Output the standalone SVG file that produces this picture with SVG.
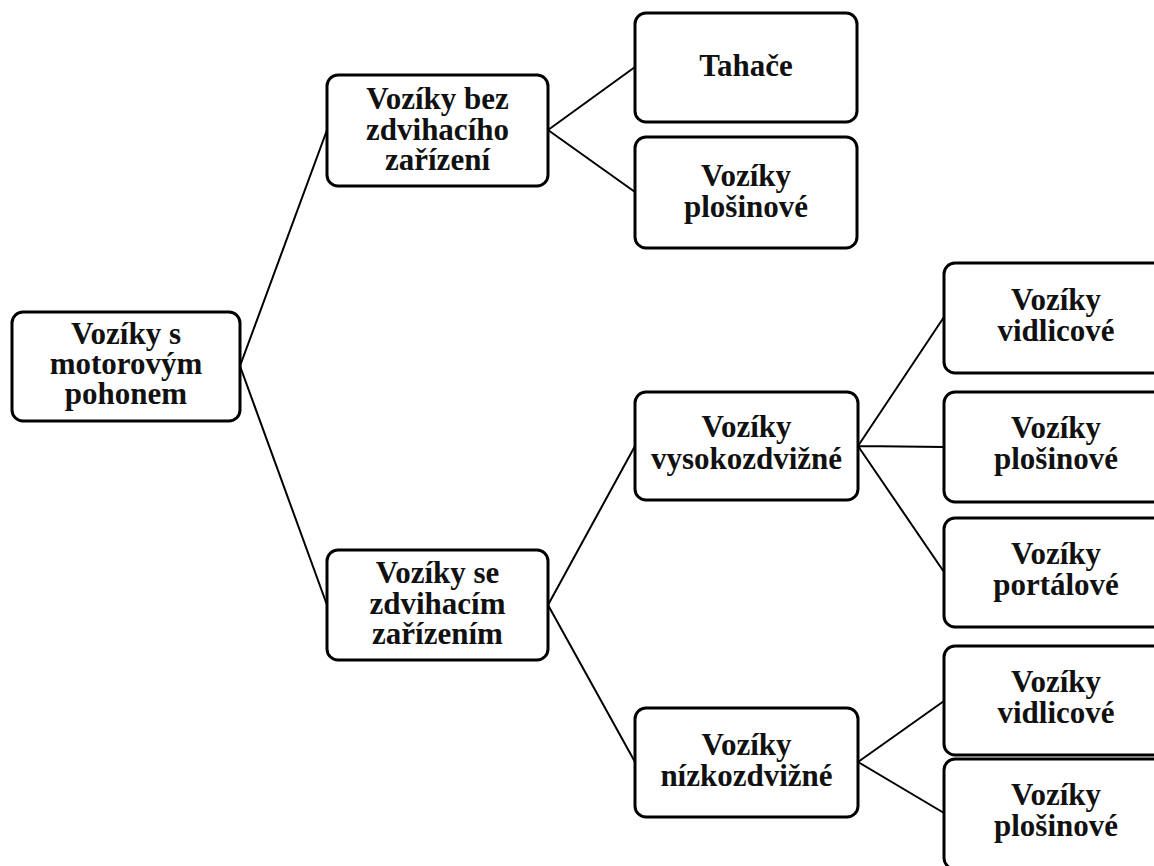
<svg xmlns="http://www.w3.org/2000/svg" width="1154" height="866" viewBox="0 0 1154 866">
  <style>
    .box { fill: #ffffff; stroke: #000000; stroke-width: 3; }
    .lbl { font-family: "Liberation Serif", "Times New Roman", serif; font-weight: bold; font-size: 31px; fill: #111111; text-anchor: middle; }
    .edge { stroke: #000000; stroke-width: 2; fill: none; }
  </style>
  <rect width="1154" height="866" fill="#ffffff"/>

  <!-- connectors -->
  <g id="connectors">
    <path class="edge" d="M240,366 L327,130 M240,366 L327,605"/>
    <path class="edge" d="M548,130 L635,67 M548,130 L635,192"/>
    <path class="edge" d="M548,605 L635,446 M548,605 L635,762"/>
    <path class="edge" d="M858,446 L944,317 M858,446 L944,447 M858,446 L944,572"/>
    <path class="edge" d="M858,762 L944,701 M858,762 L944,813"/>
  </g>

  <!-- root -->
  <g id="root">
    <rect class="box" x="12" y="312" width="228" height="109" rx="11"/>
    <text class="lbl" x="126" y="344">Vozíky s<tspan x="126" dy="30">motorovým</tspan><tspan x="126" dy="30">pohonem</tspan></text>
  </g>

  <!-- level 1 -->
  <g id="bez-zdvihaciho">
    <rect class="box" x="327" y="75" width="221" height="111" rx="11"/>
    <text class="lbl" x="437.5" y="109">Vozíky bez<tspan x="437.5" dy="30.5">zdvihacího</tspan><tspan x="437.5" dy="30.5">zařízení</tspan></text>
  </g>
  <g id="se-zdvihacim">
    <rect class="box" x="327" y="550" width="221" height="110" rx="11"/>
    <text class="lbl" x="437.5" y="583">Vozíky se<tspan x="437.5" dy="30.5">zdvihacím</tspan><tspan x="437.5" dy="30.5">zařízením</tspan></text>
  </g>

  <!-- level 2 -->
  <g id="tahace">
    <rect class="box" x="635" y="13" width="222" height="109" rx="11"/>
    <text class="lbl" x="746" y="75.5">Tahače</text>
  </g>
  <g id="plosinove-a">
    <rect class="box" x="635" y="137" width="222" height="111" rx="11"/>
    <text class="lbl" x="746" y="186">Vozíky<tspan x="746" dy="31">plošinové</tspan></text>
  </g>
  <g id="vysokozdvizne">
    <rect class="box" x="635" y="392" width="223" height="108" rx="11"/>
    <text class="lbl" x="746.5" y="437">Vozíky<tspan x="746.5" dy="32">vysokozdvižné</tspan></text>
  </g>
  <g id="nizkozdvizne">
    <rect class="box" x="635" y="708" width="223" height="109" rx="11"/>
    <text class="lbl" x="746.5" y="755">Vozíky<tspan x="746.5" dy="31">nízkozdvižné</tspan></text>
  </g>

  <!-- level 3 -->
  <g id="vidlicove-a">
    <rect class="box" x="944" y="263" width="224" height="110" rx="11"/>
    <text class="lbl" x="1056" y="310">Vozíky<tspan x="1056" dy="31">vidlicové</tspan></text>
  </g>
  <g id="plosinove-b">
    <rect class="box" x="944" y="392" width="224" height="110" rx="11"/>
    <text class="lbl" x="1056" y="438">Vozíky<tspan x="1056" dy="31">plošinové</tspan></text>
  </g>
  <g id="portalove">
    <rect class="box" x="944" y="518" width="224" height="109" rx="11"/>
    <text class="lbl" x="1056" y="564">Vozíky<tspan x="1056" dy="31">portálové</tspan></text>
  </g>
  <g id="vidlicove-b">
    <rect class="box" x="944" y="646" width="224" height="109" rx="11"/>
    <text class="lbl" x="1056" y="692">Vozíky<tspan x="1056" dy="31">vidlicové</tspan></text>
  </g>
  <g id="plosinove-c">
    <rect class="box" x="944" y="759" width="224" height="110" rx="11"/>
    <text class="lbl" x="1056" y="805">Vozíky<tspan x="1056" dy="31">plošinové</tspan></text>
  </g>
</svg>
